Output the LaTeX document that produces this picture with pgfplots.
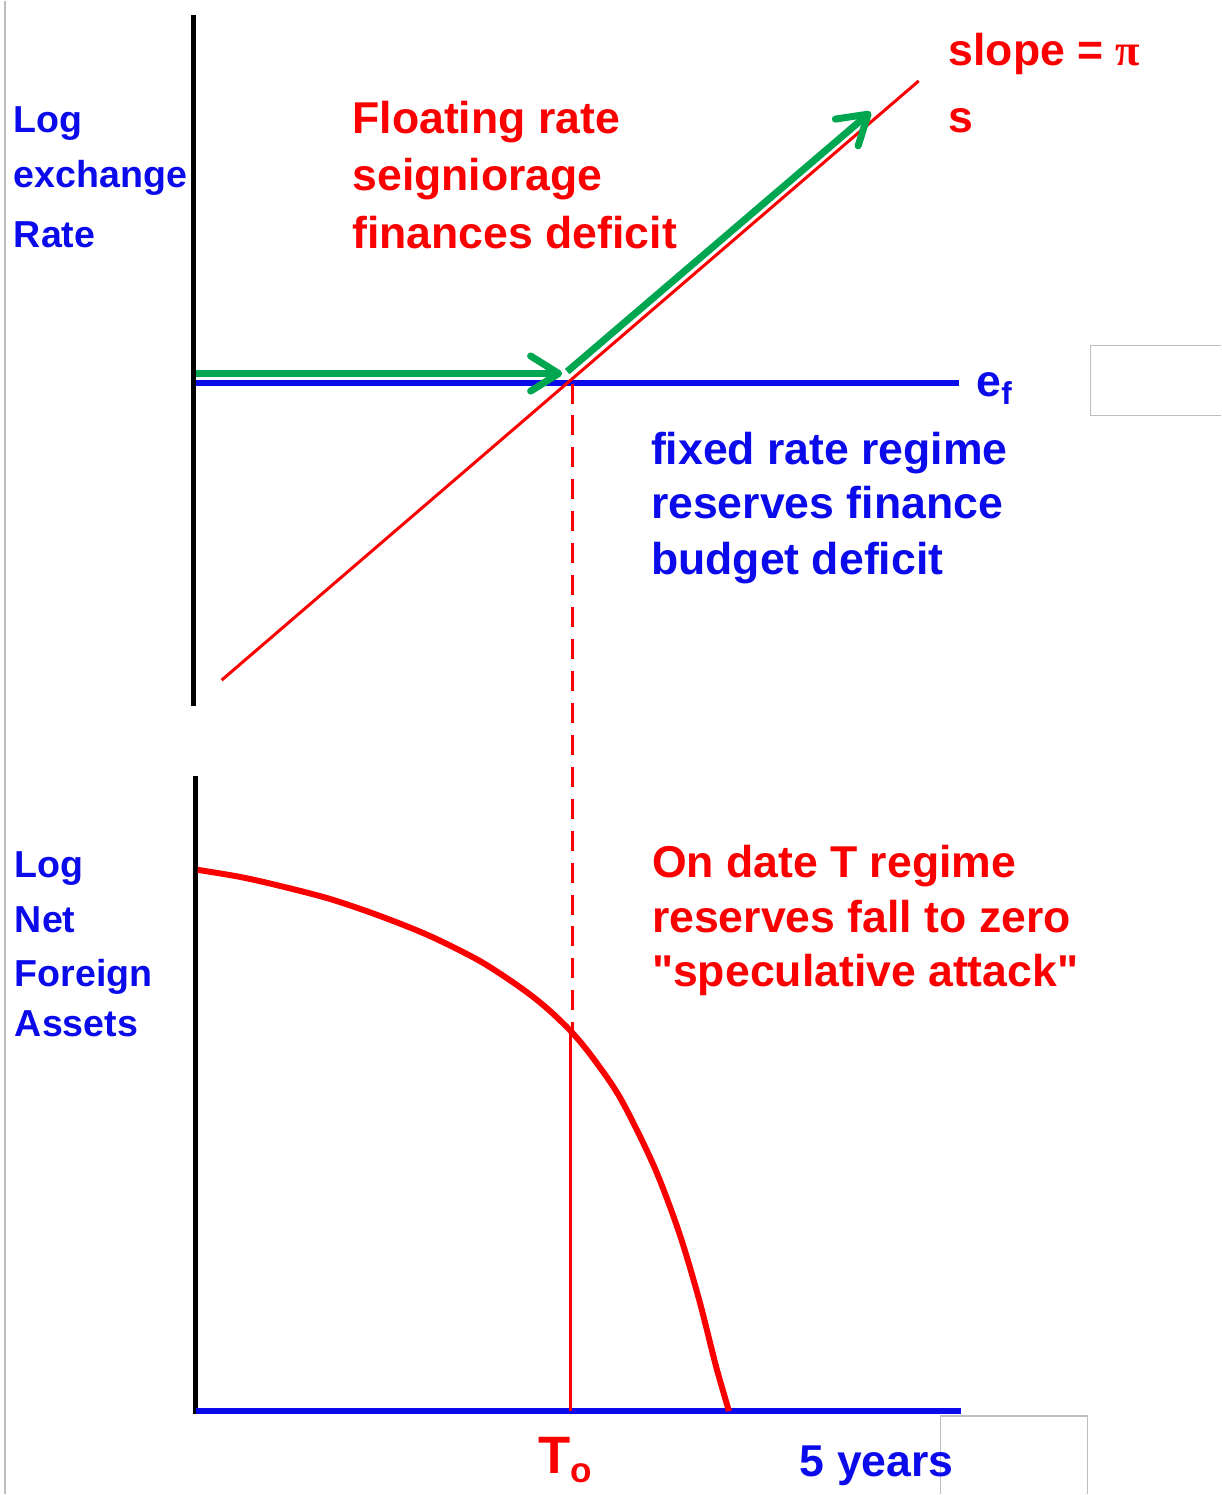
\documentclass[border=0pt]{standalone}
\usepackage{pgfplots}
\pgfplotsset{compat=1.18}
\usepackage{fontspec}
\setmainfont{Liberation Sans}
\newfontfamily\seriffont{Liberation Serif}
\newfontfamily\qfont{Liberation Sans}[Ligatures=TeXOff]
\usetikzlibrary{arrows.meta}
\definecolor{tred}{RGB}{250,0,0}
\definecolor{tblue}{RGB}{10,10,235}
\definecolor{tgreen}{RGB}{0,166,80}
\definecolor{tgray}{RGB}{190,190,190}
\newcommand\F[1]{\fontsize{#1}{#1}\selectfont\bfseries}
\tikzset{lbl/.style={inner sep=0pt, outer sep=0pt, anchor=base west}}
\begin{document}
\begin{tikzpicture}
\begin{axis}[
  scale only axis, width=12.23cm, height=14.95cm,
  xmin=0, xmax=1223, ymin=0, ymax=1495, y dir=reverse,
  hide axis, clip=false,
]
% frame / bounding box
\addplot[draw=none] coordinates {(0,0) (1223,1495)};
\addplot[tgray, line width=0.6pt] coordinates {(5,0) (5,1495)};
\addplot[tgray, line width=0.4pt] coordinates {(1223,345) (1092,345) (1092,415) (1223,415)};
\addplot[tgray, line width=0.4pt] coordinates {(942,1495) (942,1417) (1089,1417) (1089,1495)};
% axes
\addplot[black, line width=1.4pt] coordinates {(194,14) (194,706)};
\addplot[black, line width=1.4pt] coordinates {(196,776) (196,1415)};
% top panel
\addplot[tblue, line width=1.7pt] coordinates {(196,382) (960,382)};
\addplot[tred, line width=0.85pt] coordinates {(222,680) (920,80)};
\addplot[tred, line width=0.85pt, dash pattern=on 5.7pt off 3.4pt] coordinates {(573,383) (573,1030)};
\addplot[tgreen, line width=2pt, -{Straight Barb[length=8pt, width=10pt, line width=2pt, round]}] coordinates {(196,373) (563,373)};
\addplot[tgreen, line width=2pt, -{Straight Barb[length=8pt, width=10pt, line width=2pt, round]}] coordinates {(568,371) (872,111)};
% bottom panel
\addplot[tblue, line width=1.7pt] coordinates {(196,1412) (962,1412)};
\addplot[tred, line width=0.85pt] coordinates {(571,1031) (571,1412)};
\addplot[tred, line width=1.7pt, smooth] coordinates {
 (198,870) (240,877) (280,886) (330,899) (380,916) (430,936) (480,961)
 (520,987) (547,1008) (573,1033) (595,1060) (622,1100) (655,1167)
 (680,1233) (700,1300) (717,1367) (730,1412)};
% texts
\node[lbl, text=tblue, font=\F{10.7}] at (axis cs:14,132) {Log};
\node[lbl, text=tblue, font=\F{10.7}] at (axis cs:14,187) {exchange};
\node[lbl, text=tblue, font=\F{10.7}] at (axis cs:14,247) {Rate};
\node[lbl, text=tblue, font=\F{10.7}] at (axis cs:15,878) {Log};
\node[lbl, text=tblue, font=\F{10.7}] at (axis cs:15,933) {Net};
\node[lbl, text=tblue, font=\F{10.7}] at (axis cs:15,987) {Foreign};
\node[lbl, text=tblue, font=\F{10.7}] at (axis cs:15,1037) {Assets};
\node[lbl, text=tred, font=\F{12.7}] at (axis cs:353,133) {Floating rate};
\node[lbl, text=tred, font=\F{12.7}] at (axis cs:353,190) {seigniorage};
\node[lbl, text=tred, font=\F{12.7}] at (axis cs:353,248) {finances deficit};
\node[lbl, text=tred, font=\F{12.7}] at (axis cs:950,65) {slope = {\seriffont π}};
\node[lbl, text=tred, font=\F{12.7}] at (axis cs:950,132) {s};
\node[lbl, text=tblue, font=\F{12.7}] at (axis cs:978,396) {e\raisebox{-0.35ex}{\F{9}f}};
\node[lbl, text=tblue, font=\F{12.7}] at (axis cs:652,464) {fixed rate regime};
\node[lbl, text=tblue, font=\F{12.7}] at (axis cs:652,518) {reserves finance};
\node[lbl, text=tblue, font=\F{12.7}] at (axis cs:652,574) {budget deficit};
\node[lbl, text=tred, font=\F{12.7}] at (axis cs:653,878) {On date T regime};
\node[lbl, text=tred, font=\F{12.7}] at (axis cs:653,933) {reserves fall to zero};
\node[lbl, text=tred, font=\F{12.7}] at (axis cs:653,987) {{\qfont"}speculative attack{\qfont"}};
\node[lbl, text=tred, font=\F{15}] at (axis cs:539,1475) {T\raisebox{-0.3ex}{\F{10}o}};
\node[lbl, text=tblue, font=\F{12.7}] at (axis cs:801,1478) {5 years};
\end{axis}
\end{tikzpicture}
\end{document}
